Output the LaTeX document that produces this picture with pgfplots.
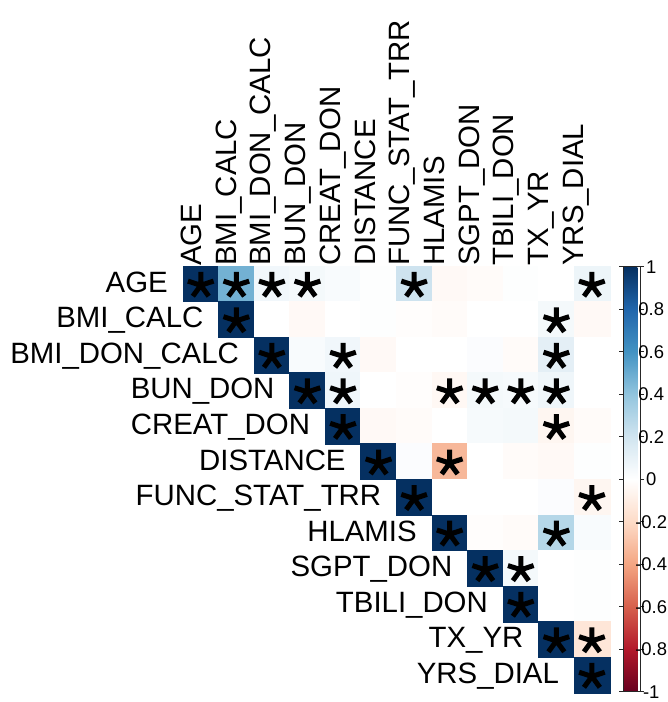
\documentclass[border=0pt]{standalone}
\usepackage{fontspec}
\setmainfont{Liberation Sans}
\usepackage{pgfplots}
\pgfplotsset{compat=1.18}
\pgfplotsset{colormap={RdBu}{rgb255=(103,0,31) rgb255=(178,24,43) rgb255=(214,96,77) rgb255=(244,165,130) rgb255=(253,219,199) rgb255=(255,255,255) rgb255=(209,229,240) rgb255=(146,197,222) rgb255=(67,147,195) rgb255=(33,102,172) rgb255=(5,48,97)}}
\newcommand{\lab}{\fontsize{29.5}{31}\selectfont}
\begin{document}
\begin{tikzpicture}
\path[use as bounding box] (0,0) rectangle (668bp,702bp);
\begin{axis}[
  at={(183bp,9.3bp)}, anchor=south west,
  scale only axis, width=426.7bp, height=426.7bp,
  xmin=-0.5, xmax=11.5, ymin=-0.5, ymax=11.5, y dir=reverse,
  axis line style={draw=none}, xtick=\empty, ytick=\empty,
  clip=false,
  colormap name=RdBu, point meta min=-1, point meta max=1,
  colorbar,
  colorbar style={
    at={(parent axis.north east)}, anchor=north west,
    xshift=5bp, yshift=-1bp,
    scale only axis, width=17bp, height=425bp,
    axis line style={draw=black!85, line width=1bp},
    ytick={-1,-0.8,-0.6,-0.4,-0.2,0,0.2,0.4,0.6,0.8,1},
    yticklabels={-1,-0.8,-0.6,-0.4,-0.2,0,0.2,0.4,0.6,0.8,1},
    ytick align=outside, major tick length=4bp,
    ytick style={draw=black!85, line width=1bp},
    yticklabel style={font=\fontsize{18.5}{20}\selectfont, anchor=center, xshift=7bp},
  },
]
\addplot[scatter, only marks, mark=square*, mark size=17.9bp, point meta=explicit,
  scatter/use mapped color={draw=mapped color, fill=mapped color}]
  table[x=x, y=y, meta=v] {
x y v
0 0 1
1 0 0.48
2 0 0.06
3 0 0.05
4 0 0.03
5 0 0.01
6 0 0.21
7 0 -0.03
8 0 -0.02
9 0 0.01
10 0 0.0
11 0 0.08
1 1 1
2 1 0.0
3 1 -0.03
4 1 0.0
5 1 0.01
6 1 -0.01
7 1 -0.02
8 1 0.0
9 1 0.0
10 1 0.05
11 1 -0.03
2 2 1
3 2 0.03
4 2 0.06
5 2 -0.03
6 2 0.0
7 2 0.0
8 2 0.02
9 2 -0.02
10 2 0.12
11 2 0.0
3 3 1
4 3 0.07
5 3 0.0
6 3 -0.01
7 3 -0.04
8 3 0.05
9 3 0.04
10 3 0.07
11 3 0.0
4 4 1
5 4 -0.03
6 4 -0.02
7 4 0.0
8 4 0.04
9 4 0.05
10 4 -0.05
11 4 -0.02
5 5 1
6 5 0.02
7 5 -0.33
8 5 0.0
9 5 -0.02
10 5 -0.03
11 5 0.01
6 6 1
7 6 0.0
8 6 0.0
9 6 0.0
10 6 0.02
11 6 -0.05
7 7 1
8 7 -0.01
9 7 -0.02
10 7 0.29
11 7 0.03
8 8 1
9 8 0.05
10 8 0.0
11 8 0.01
9 9 1
10 9 0.0
11 9 0.01
10 10 1
11 10 -0.14
11 11 1
};
\addplot[only marks, mark=star, black,
  mark options={mark size=13.5bp, line width=5bp, yshift=-1.5bp}]
  table {
0 0
1 0
2 0
3 0
6 0
11 0
1 1
10 1
2 2
4 2
10 2
3 3
4 3
7 3
8 3
9 3
10 3
4 4
10 4
5 5
7 5
6 6
11 6
7 7
10 7
8 8
9 8
9 9
10 10
11 10
11 11
};
% row labels
\node[anchor=base east, inner sep=0pt, xshift=-15bp, yshift=-8.5bp, font=\lab] at (axis cs:-0.5,0) {AGE};
\node[anchor=base east, inner sep=0pt, xshift=-15bp, yshift=-8.5bp, font=\lab] at (axis cs:0.5,1) {BMI\_CALC};
\node[anchor=base east, inner sep=0pt, xshift=-15bp, yshift=-8.5bp, font=\lab] at (axis cs:1.5,2) {BMI\_DON\_CALC};
\node[anchor=base east, inner sep=0pt, xshift=-15bp, yshift=-8.5bp, font=\lab] at (axis cs:2.5,3) {BUN\_DON};
\node[anchor=base east, inner sep=0pt, xshift=-15bp, yshift=-8.5bp, font=\lab] at (axis cs:3.5,4) {CREAT\_DON};
\node[anchor=base east, inner sep=0pt, xshift=-15bp, yshift=-8.5bp, font=\lab] at (axis cs:4.5,5) {DISTANCE};
\node[anchor=base east, inner sep=0pt, xshift=-15bp, yshift=-8.5bp, font=\lab] at (axis cs:5.5,6) {FUNC\_STAT\_TRR};
\node[anchor=base east, inner sep=0pt, xshift=-15bp, yshift=-8.5bp, font=\lab] at (axis cs:6.5,7) {HLAMIS};
\node[anchor=base east, inner sep=0pt, xshift=-15bp, yshift=-8.5bp, font=\lab] at (axis cs:7.5,8) {SGPT\_DON};
\node[anchor=base east, inner sep=0pt, xshift=-15bp, yshift=-8.5bp, font=\lab] at (axis cs:8.5,9) {TBILI\_DON};
\node[anchor=base east, inner sep=0pt, xshift=-15bp, yshift=-8.5bp, font=\lab] at (axis cs:9.5,10) {TX\_YR};
\node[anchor=base east, inner sep=0pt, xshift=-15bp, yshift=-8.5bp, font=\lab] at (axis cs:10.5,11) {YRS\_DIAL};
% column labels
\node[anchor=base west, rotate=90, inner sep=0pt, yshift=12bp, font=\lab] at (axis cs:0.358,-0.5) {AGE};
\node[anchor=base west, rotate=90, inner sep=0pt, yshift=12bp, font=\lab] at (axis cs:1.334,-0.5) {BMI\_CALC};
\node[anchor=base west, rotate=90, inner sep=0pt, yshift=12bp, font=\lab] at (axis cs:2.310,-0.5) {BMI\_DON\_CALC};
\node[anchor=base west, rotate=90, inner sep=0pt, yshift=12bp, font=\lab] at (axis cs:3.285,-0.5) {BUN\_DON};
\node[anchor=base west, rotate=90, inner sep=0pt, yshift=12bp, font=\lab] at (axis cs:4.261,-0.5) {CREAT\_DON};
\node[anchor=base west, rotate=90, inner sep=0pt, yshift=12bp, font=\lab] at (axis cs:5.237,-0.5) {DISTANCE};
\node[anchor=base west, rotate=90, inner sep=0pt, yshift=12bp, font=\lab] at (axis cs:6.213,-0.5) {FUNC\_STAT\_TRR};
\node[anchor=base west, rotate=90, inner sep=0pt, yshift=12bp, font=\lab] at (axis cs:7.189,-0.5) {HLAMIS};
\node[anchor=base west, rotate=90, inner sep=0pt, yshift=12bp, font=\lab] at (axis cs:8.164,-0.5) {SGPT\_DON};
\node[anchor=base west, rotate=90, inner sep=0pt, yshift=12bp, font=\lab] at (axis cs:9.140,-0.5) {TBILI\_DON};
\node[anchor=base west, rotate=90, inner sep=0pt, yshift=12bp, font=\lab] at (axis cs:10.116,-0.5) {TX\_YR};
\node[anchor=base west, rotate=90, inner sep=0pt, yshift=12bp, font=\lab] at (axis cs:11.092,-0.5) {YRS\_DIAL};
\end{axis}
\end{tikzpicture}
\end{document}
